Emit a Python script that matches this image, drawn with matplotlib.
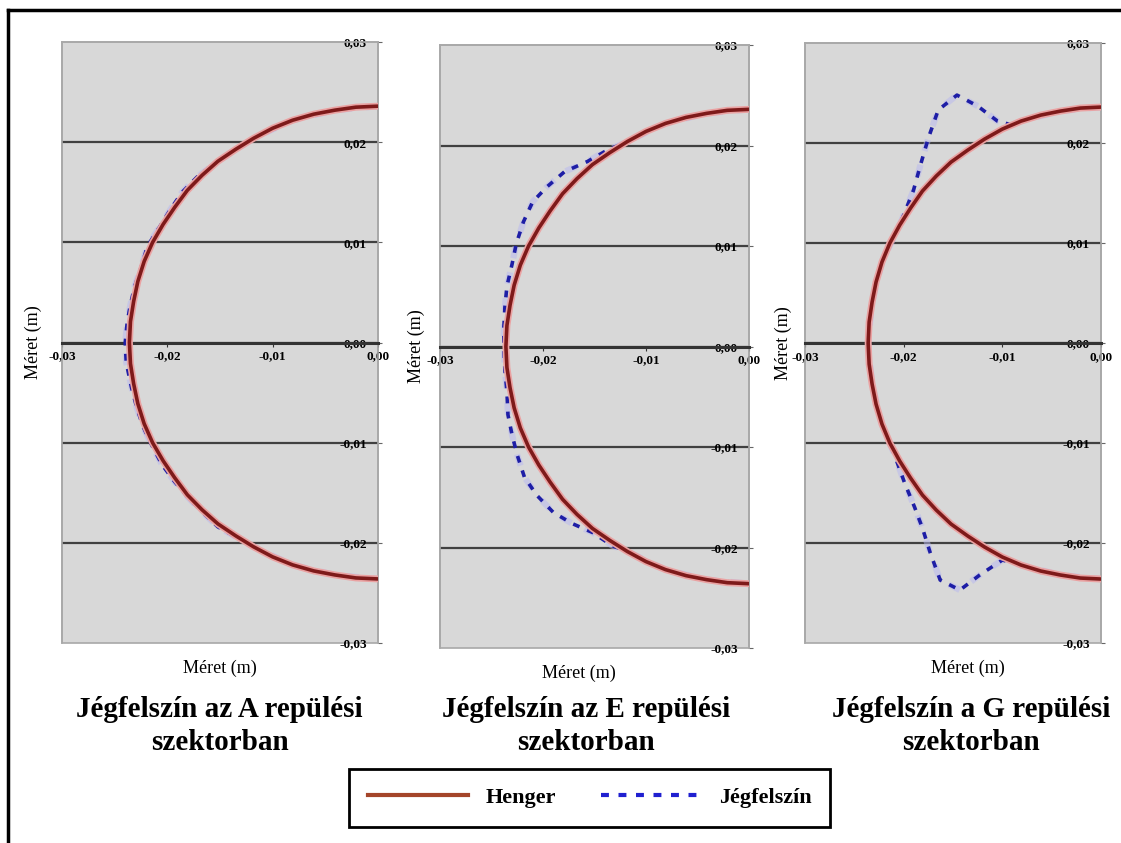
import matplotlib.pyplot as plt
from matplotlib.lines import Line2D
from matplotlib.patches import Rectangle

# Henger (cylinder outline), same in all three panels
henger_x = [0.0, -0.0021, -0.0041, -0.0061, -0.0081, -0.0100, -0.0118, -0.0135, -0.0152, -0.0167,
            -0.0181, -0.0193, -0.0204, -0.0214, -0.0222, -0.0228, -0.0232, -0.0235, -0.0236,
            -0.0235, -0.0232, -0.0228, -0.0222, -0.0214, -0.0204, -0.0193, -0.0181, -0.0167,
            -0.0152, -0.0135, -0.0118, -0.0100, -0.0081, -0.0061, -0.0041, -0.0021, 0.0]
henger_y = [0.0236, 0.0235, 0.0232, 0.0228, 0.0222, 0.0214, 0.0204, 0.0193, 0.0181, 0.0167,
            0.0152, 0.0135, 0.0118, 0.0100, 0.0081, 0.0061, 0.0041, 0.0021, 0.0,
            -0.0021, -0.0041, -0.0061, -0.0081, -0.0100, -0.0118, -0.0135, -0.0152, -0.0167,
            -0.0181, -0.0193, -0.0204, -0.0214, -0.0222, -0.0228, -0.0232, -0.0235, -0.0236]

# Jégfelszín (ice surface) per sector
jeg_a_x = [0.0, -0.0041, -0.0081, -0.0118, -0.0152, -0.0172, -0.0186, -0.0197, -0.0207, -0.0219,
           -0.0224, -0.0231, -0.0235, -0.0238, -0.0240, -0.0239, -0.0234, -0.0229, -0.0223, -0.0215,
           -0.0205, -0.0193, -0.0180, -0.0166, -0.0152, -0.0118, -0.0081, -0.0041, 0.0]
jeg_a_y = [0.0236, 0.0232, 0.0222, 0.0204, 0.0181, 0.0165, 0.0150, 0.0133, 0.0116, 0.0096,
           0.0078, 0.0056, 0.0038, 0.0021, 0.0, -0.0020, -0.0045, -0.0065, -0.0084, -0.0102,
           -0.0122, -0.0139, -0.0155, -0.0170, -0.0184, -0.0204, -0.0222, -0.0232, -0.0236]

jeg_e_x = [0.0, -0.0041, -0.0081, -0.0118, -0.0140, -0.0157, -0.0179, -0.0196, -0.0210, -0.0219,
           -0.0226, -0.0230, -0.0235, -0.0237, -0.0238, -0.0238, -0.0237, -0.0235, -0.0234, -0.0230,
           -0.0225, -0.0218, -0.0206, -0.0190, -0.0172, -0.0152, -0.0133, -0.0118, -0.0081, -0.0041, 0.0]
jeg_e_y = [0.0236, 0.0232, 0.0222, 0.0204, 0.0194, 0.0184, 0.0174, 0.0159, 0.0144, 0.0124,
           0.0102, 0.0082, 0.0060, 0.0039, 0.0019, 0.0, -0.0023, -0.0045, -0.0068, -0.0088,
           -0.0108, -0.0130, -0.0148, -0.0165, -0.0176, -0.0185, -0.0198, -0.0204, -0.0222, -0.0232, -0.0236]

jeg_g_x = [0.0, -0.0041, -0.0081, -0.0090, -0.0105, -0.0125, -0.0146, -0.0165, -0.0175, -0.0183,
           -0.0190, -0.0198, -0.0204, -0.0222, -0.0232, -0.0236, -0.0232, -0.0222, -0.0210, -0.0199,
           -0.0189, -0.0181, -0.0173, -0.0163, -0.0143, -0.0123, -0.0100, -0.0081, -0.0041, 0.0]
jeg_g_y = [0.0236, 0.0232, 0.0222, 0.0218, 0.0222, 0.0237, 0.0248, 0.0233, 0.0205, 0.0178,
           0.0153, 0.0133, 0.0118, 0.0081, 0.0041, 0.0, -0.0041, -0.0081, -0.0110, -0.0140,
           -0.0164, -0.0185, -0.0210, -0.0237, -0.0247, -0.0232, -0.0217, -0.0222, -0.0232, -0.0236]

x_ticks = [-0.03, -0.02, -0.01, 0.0]
x_tick_labels = ['-0,03', '-0,02', '-0,01', '0,00']
y_ticks = [-0.03, -0.02, -0.01, 0.0, 0.01, 0.02, 0.03]
y_tick_labels = ['-0,03', '-0,02', '-0,01', '0,00', '0,01', '0,02', '0,03']

titles = ['Jégfelszín az A repülési\nszektorban',
          'Jégfelszín az E repülési\nszektorban',
          'Jégfelszín a G repülési\nszektorban']
axis_label = 'Méret (m)'

RED = '#7e1a1a'
BLUE = '#1e1ea6'
DASH = (0, (1.9, 2.3))

plt.rcParams['font.family'] = ['Liberation Serif', 'DejaVu Serif']

fig = plt.figure(figsize=(11.21, 8.43), dpi=100)

# axes boxes [left, bottom, width, height], xlabel x, title x (fig fraction), ylabel x
panels = [
    ([0.0553, 0.2372, 0.2819, 0.7129], 0.50, 0.196, jeg_a_x, jeg_a_y, -0.062),
    ([0.3925, 0.2313, 0.2756, 0.7153], 0.45, 0.523, jeg_e_x, jeg_e_y, -0.048),
    ([0.7181, 0.2372, 0.2641, 0.7117], 0.55, 0.866, jeg_g_x, jeg_g_y, -0.044),
]

for (pos, xlab_x, title_x, jx, jy, ylab_x), title in zip(panels, titles):
    ax = fig.add_axes(pos)
    ax.set_facecolor('#d8d8d8')
    ax.set_xlim(-0.03, 0.0)
    ax.set_ylim(-0.03, 0.03)

    ax.hlines(y_ticks[1:-1], -0.03, 0.0, color='#404040', lw=1.6, zorder=1)

    ax.plot(jx, jy, color='#b8b8f0', lw=4.5, alpha=0.5, ls=DASH, zorder=3)
    ax.plot(jx, jy, color=BLUE, lw=2.6, ls=DASH, zorder=3)
    ax.plot(henger_x, henger_y, color='#eaa2a2', lw=5, zorder=4)
    ax.plot(henger_x, henger_y, color=RED, lw=2.6, zorder=5)

    for s in ['top', 'left', 'right']:
        ax.spines[s].set_color('#a8a8a8')
        ax.spines[s].set_linewidth(1.2)
    ax.spines['bottom'].set_position(('data', 0))
    ax.spines['bottom'].set_color('#333333')
    ax.spines['bottom'].set_linewidth(2.2)
    ax.add_patch(Rectangle((0, 0), 1, 1, transform=ax.transAxes, fill=False,
                           edgecolor='#a8a8a8', lw=1.2, clip_on=False, zorder=0.5))

    ax.set_xticks(x_ticks)
    ax.set_xticklabels(x_tick_labels, fontsize=9.5, fontweight='bold')
    ax.tick_params(axis='x', direction='out', length=3, pad=2.5, color='#333333')

    ax.yaxis.set_ticks_position('right')
    ax.set_yticks(y_ticks)
    ax.set_yticklabels(y_tick_labels, fontsize=9.5, fontweight='bold', ha='right')
    ax.tick_params(axis='y', direction='out', length=3, pad=-11, color='#666666')

    ax.set_ylabel(axis_label, fontsize=13)
    ax.yaxis.set_label_position('left')
    ax.yaxis.set_label_coords(ylab_x, 0.5)
    ax.set_xlabel(axis_label, fontsize=13)
    ax.xaxis.set_label_coords(xlab_x, -0.028)

    fig.text(title_x, 0.174, title, ha='center', va='top', fontsize=21,
             fontweight='bold', linespacing=1.25)

handles = [Line2D([], [], color='#a4452a', lw=3),
           Line2D([], [], color='#2020d0', lw=3, ls=DASH)]
leg = fig.legend(handles, ['Henger', 'Jégfelszín'], loc='center', bbox_to_anchor=(0.526, 0.0534),
                 ncol=2, frameon=True, fancybox=False, edgecolor='black', framealpha=1,
                 prop={'weight': 'bold', 'size': 16}, handlelength=4.5,
                 handletextpad=0.8, columnspacing=2.0, borderpad=0.85)
leg.get_frame().set_linewidth(2)

# outer frame: only left and top edges visible
fig.add_artist(Line2D([0.0075, 0.0075], [0.0, 0.988], color='black', lw=2.5))
fig.add_artist(Line2D([0.0075, 1.0], [0.988, 0.988], color='black', lw=2.5))

fig.savefig('out.png', dpi=100)
